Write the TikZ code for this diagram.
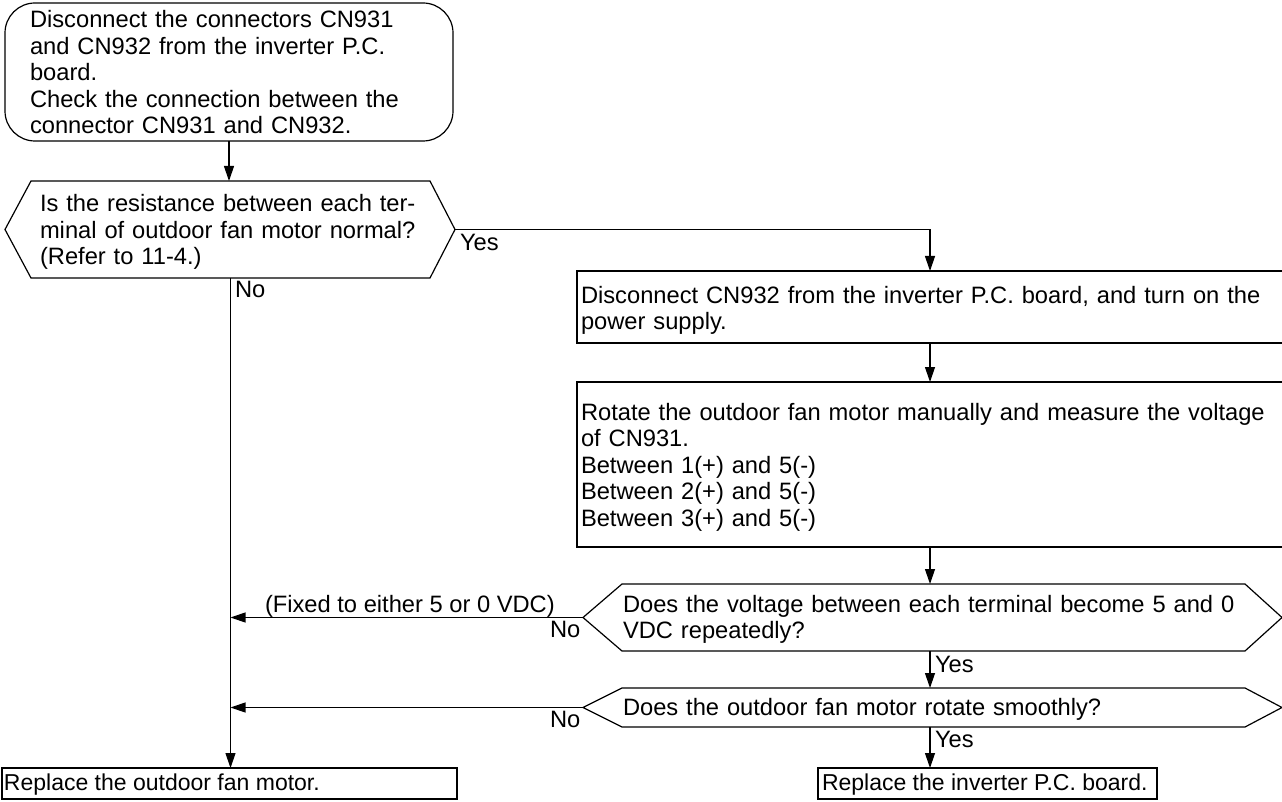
\documentclass[tikz,border=0pt]{standalone}
\usepackage{fontspec}
\setmainfont{Liberation Sans}
\usetikzlibrary{arrows.meta,calc}
\begin{document}
\begin{tikzpicture}[x=1pt,y=-1pt,
  every node/.style={inner sep=0pt, outer sep=0pt},
  txt/.style={anchor=base west, align=left, text width=720pt, font=\fontsize{23.7}{26.5}\selectfont},
  lab/.style={anchor=base west, font=\fontsize{23.7}{26.5}\selectfont},
  endlab/.style={anchor=base west, font=\fontsize{23}{26.5}\selectfont},
  shapebox/.style={draw, line width=1.2pt},
  hexbody/.style={draw=none},
  endbox/.style={draw, line width=2.6pt},
  arr/.style={line width=1.2pt, -{Triangle[length=15pt,width=10pt]}},
  ln/.style={line width=1.2pt}
]
\useasboundingbox (0,0) rectangle (1282,802);

% shapes
\node[shapebox, rounded corners=30pt, minimum width=448pt, minimum height=138pt] (start) at (229,72) {};
\node[hexbody, minimum width=399pt, minimum height=97pt] (q1) at (230.5,229.5) {};
\node[shapebox, minimum width=718pt, minimum height=72pt] (box2) at (936,307) {};
\node[shapebox, minimum width=718pt, minimum height=165pt] (box3) at (936,464.5) {};
\node[hexbody, minimum width=623pt, minimum height=67pt] (q2) at (933.5,617.5) {};
\node[hexbody, minimum width=623pt, minimum height=39pt] (q3) at (933.5,707.5) {};
\node[endbox, minimum width=455pt, minimum height=31pt] (end1) at (229.5,783.5) {};
\node[endbox, minimum width=339pt, minimum height=31pt] (end2) at (987.5,783.5) {};

% hexagon outlines
\draw[ln] (q1.north west) -- (q1.north east) -- ($(q1.east)+(25,0)$) coordinate (q1r)
  -- (q1.south east) -- (q1.south west) -- ($(q1.west)+(-26,0)$) coordinate (q1l) -- cycle;
\draw[ln] (q2.north west) -- (q2.north east) -- ($(q2.east)+(37,0)$) coordinate (q2r)
  -- (q2.south east) -- (q2.south west) -- ($(q2.west)+(-39,0)$) coordinate (q2l) -- cycle;
\draw[ln] (q3.north west) -- (q3.north east) -- ($(q3.east)+(37,0)$) coordinate (q3r)
  -- (q3.south east) -- (q3.south west) -- ($(q3.west)+(-39,0)$) coordinate (q3l) -- cycle;

% texts
\node[txt] (t0) at (30,28) {Disconnect the connectors CN931\\and CN932 from the inverter P.C.\\board.\\Check the connection between the\\connector CN931 and CN932.};
\node[txt] (t1) at (40,212) {Is the resistance between each ter-\\minal of outdoor fan motor normal?\\(Refer to 11-4.)};
\node[txt] (t2) at (581,303) {Disconnect CN932 from the inverter P.C. board, and turn on the\\power supply.};
\node[txt] (t3) at (581,420) {Rotate the outdoor fan motor manually and measure the voltage\\of CN931.\\Between 1(+) and 5(-)\\Between 2(+) and 5(-)\\Between 3(+) and 5(-)};
\node[txt] (t4) at (623,612) {Does the voltage between each terminal become 5 and 0\\VDC repeatedly?};
\node[txt] (t5) at (623,715) {Does the outdoor fan motor rotate smoothly?};
\node[endlab] (t6) at (4,790) {Replace the outdoor fan motor.};
\node[endlab] (t7) at (822,790) {Replace the inverter P.C. board.};

% connectors
\coordinate (col) at (930,0);
\draw[arr] (start.south) -- (start.south |- q1.north);
\draw[arr] (q1r) -| (col |- box2.north);
\draw[arr] (col |- box2.south) -- (col |- box3.north);
\draw[arr] (col |- box3.south) -- (col |- q2.north);
\draw[arr] (col |- q2.south) -- (col |- q3.north);
\draw[arr] (col |- q3.south) -- (col |- end2.north);
\draw[arr] (q1.south) -- (q1.south |- end1.north);
\draw[arr] (q2l) -- (q1.south |- q2l);
\draw[arr] (q3l) -- (q1.south |- q3l);

% labels
\node[lab] (yes1) at (460,251) {Yes};
\node[lab] (no1) at (235,298) {No};
\node[lab] (fixed) at (265,612) {(Fixed to either 5 or 0 VDC)};
\node[lab] (no2) at (550,637) {No};
\node[lab] (no3) at (550,727) {No};
\node[lab] (yes2) at (935,672) {Yes};
\node[lab] (yes3) at (935,747) {Yes};
\end{tikzpicture}
\end{document}
